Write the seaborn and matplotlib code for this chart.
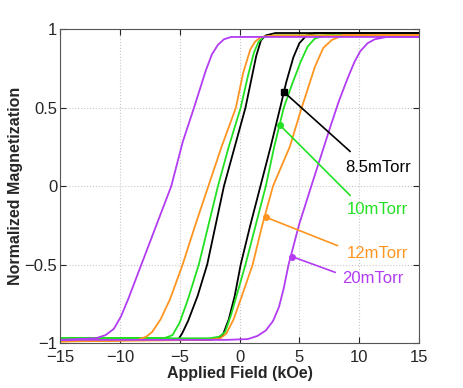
import pandas as pd
import matplotlib
matplotlib.use("Agg")
import matplotlib.pyplot as plt
import seaborn as sns

sns.set_style("ticks")
plt.rcParams['font.family'] = ['Liberation Sans', 'DejaVu Sans']

# hysteresis loops: descending branch then ascending branch
labels = ["8.5mTorr", "10mTorr", "12mTorr", "20mTorr"]
colors = ["#000000", "#22e022", "#ff9520", "#b23cf2"]

black_down_x = [15, 3, 2.2, 1.8, 1.4, 0.5, -0.4, -1.3, -2.0, -2.7, -3.5, -4.3, -4.8, -5.1, -5.6, -15]
black_down_m = [0.975, 0.975, 0.96, 0.93, 0.83, 0.5, 0.25, 0.0, -0.25, -0.5, -0.7, -0.86, -0.94, -0.975, -0.98, -0.98]
black_up_x = [-15, -2.5, -1.8, -1.4, -0.9, -0.4, 0.1, 0.9, 1.75, 2.6, 3.4, 3.9, 4.5, 5.0, 5.6, 6.5, 15]
black_up_m = [-0.98, -0.98, -0.97, -0.95, -0.85, -0.7, -0.5, -0.25, 0.0, 0.25, 0.5, 0.66, 0.82, 0.91, 0.96, 0.975, 0.975]

green_down_x = [15, 3, 2.0, 1.6, 1.2, 0.7, 0.1, -0.9, -1.8, -2.6, -3.4, -4.3, -5.0, -5.6, -6.3, -15]
green_down_m = [0.96, 0.96, 0.95, 0.92, 0.85, 0.7, 0.5, 0.25, 0.0, -0.25, -0.5, -0.72, -0.87, -0.95, -0.97, -0.97]
green_up_x = [-15, -2.5, -1.7, -1.2, -0.7, 0.5, 1.35, 2.2, 2.9, 3.7, 4.4, 5.1, 5.7, 6.3, 7.2, 15]
green_up_m = [-0.97, -0.97, -0.96, -0.93, -0.82, -0.5, -0.25, 0.0, 0.25, 0.5, 0.65, 0.79, 0.89, 0.94, 0.96, 0.96]

orange_down_x = [15, 3, 1.8, 1.3, 0.9, 0.3, -0.3, -1.5, -2.6, -3.7, -4.75, -5.8, -6.6, -7.3, -7.8, -8.5, -15]
orange_down_m = [0.96, 0.96, 0.95, 0.92, 0.87, 0.72, 0.5, 0.25, 0.0, -0.25, -0.5, -0.72, -0.85, -0.93, -0.96, -0.98, -0.99]
orange_up_x = [-15, -2.5, -1.6, -1.1, -0.5, 0.2, 1.1, 1.9, 2.8, 4.2, 5.2, 6.3, 7.0, 7.7, 8.6, 15]
orange_up_m = [-0.99, -0.98, -0.97, -0.94, -0.85, -0.7, -0.5, -0.25, 0.0, 0.25, 0.5, 0.76, 0.88, 0.93, 0.96, 0.96]

purple_down_x = [15, -0.7, -1.3, -1.8, -2.3, -2.8, -3.8, -4.75, -5.7, -7.2, -8.25, -9.3, -9.9, -10.5, -11.2, -12.0, -13.5, -15]
purple_down_m = [0.95, 0.95, 0.935, 0.9, 0.84, 0.74, 0.5, 0.28, 0.0, -0.3, -0.51, -0.72, -0.83, -0.91, -0.95, -0.97, -0.975, -0.98]
purple_up_x = [-15, -1, 0.7, 1.5, 2.2, 2.8, 3.3, 3.7, 4.1, 5.0, 6.0, 6.8, 7.6, 8.3, 9.0, 9.6, 10.1, 10.7, 11.3, 12.3, 15]
purple_up_m = [-0.98, -0.98, -0.975, -0.955, -0.92, -0.86, -0.77, -0.65, -0.5, -0.24, 0.0, 0.19, 0.38, 0.54, 0.68, 0.79, 0.86, 0.91, 0.935, 0.95, 0.95]

# annotation: point on curve, end of leader line, label position
mark_x = [3.7, 3.35, 2.25, 4.4]
mark_m = [0.6, 0.39, -0.2, -0.45]
end_x = [9.25, 9.25, 8.2, 8.0]
end_m = [0.22, -0.06, -0.38, -0.55]
text_x = [8.8, 9.0, 9.0, 8.6]
text_m = [0.12, -0.15, -0.43, -0.59]
markers = ["s", "o", "o", "o"]

loops = [
    (black_down_x, black_down_m, black_up_x, black_up_m),
    (green_down_x, green_down_m, green_up_x, green_up_m),
    (orange_down_x, orange_down_m, orange_up_x, orange_up_m),
    (purple_down_x, purple_down_m, purple_up_x, purple_up_m),
]

fig = plt.figure(figsize=(4.63, 3.88), dpi=100)
ax = fig.add_axes([0.1296, 0.116, 0.7754, 0.809])

for i, (dx, dm, ux, um) in enumerate(loops):
    df = pd.DataFrame({"field": dx + ux, "mag": dm + um})
    sns.lineplot(data=df, x="field", y="mag", sort=False, estimator=None,
                 color=colors[i], lw=1.3, ax=ax)

for i in range(4):
    ax.plot([mark_x[i], end_x[i]], [mark_m[i], end_m[i]], color=colors[i], lw=1.2)
    ax.plot(mark_x[i], mark_m[i], marker=markers[i], color=colors[i], ms=4)
    ax.text(text_x[i], text_m[i], labels[i], color=colors[i], fontsize=12, va="center")

ax.set_xlim(-15, 15)
ax.set_ylim(-1, 1)
ax.set_xticks([-15, -10, -5, 0, 5, 10, 15])
ax.set_yticks([-1, -0.5, 0, 0.5, 1])
ax.set_yticklabels(["\u22121", "\u22120.5", "0", "0.5", "1"])
ax.set_xticklabels(["\u221215", "\u221210", "\u22125", "0", "5", "10", "15"])
ax.grid(True, linestyle=":", color="#c8c8c8", lw=0.8)
ax.tick_params(direction="in", top=True, right=True, labelsize=12, length=4)
ax.tick_params(axis="x", pad=5)
ax.tick_params(axis="y", pad=2)
for s in ax.spines.values():
    s.set_color("#555555")
    s.set_linewidth(0.8)
ax.set_xlabel("Applied Field (kOe)", fontsize=11.5, fontweight="bold", labelpad=1)
ax.set_ylabel("Normalized Magnetization", fontsize=11.5, fontweight="bold", labelpad=1)

fig.savefig("out.png", dpi=100)
